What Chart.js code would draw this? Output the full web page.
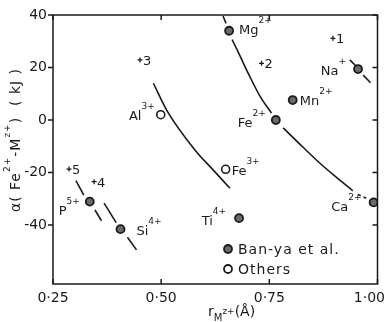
<!DOCTYPE html>
<html>
<head>
<meta charset="utf-8">
<script src="https://cdn.jsdelivr.net/npm/chart.js@4.4.0/dist/chart.umd.min.js"></script>
<style>
  html, body { margin: 0; padding: 0; background: #fff; }
  #wrap { width: 385px; height: 322px; }
</style>
</head>
<body>
<div id="wrap"><canvas id="chart"></canvas></div>
<script>
// axis ticks
const xTicks = [0.25, 0.50, 0.75, 1.00];
const yTicks = [-40, -20, 0, 20, 40];

// Ban-ya et al. (filled)
const banyaIons = ['Mg', 'Fe', 'Mn', 'Na', 'Ca', 'Ti', 'P', 'Si'];
const banyaCharge = ['2+', '2+', '2+', '+', '2+', '4+', '5+', '4+'];
const banyaR = [0.657, 0.765, 0.804, 0.955, 0.991, 0.680, 0.335, 0.406];
const banyaA = [34.0, 0.0, 7.6, 19.4, -31.4, -37.4, -31.1, -41.6];

// Others (open)
const otherIons = ['Al', 'Fe'];
const otherCharge = ['3+', '3+'];
const otherR = [0.499, 0.649];
const otherA = [2.0, -18.8];

// numbered marks
const markNums = ['1', '2', '3', '4', '5'];
const markR = [0.897, 0.732, 0.451, 0.345, 0.287];
const markA = [31.1, 21.6, 22.9, -23.5, -18.7];

// curve through Mg - Fe - Ca
const mgTopR = [0.643, 0.650];
const mgTopA = [39.6, 36.8];
const mgFeR = [0.664, 0.677, 0.705, 0.729, 0.755];
const mgFeA = [30.6, 26.2, 16.5, 8.9, 2.6];
const feCaR = [0.782, 0.828, 0.867, 0.906, 0.943];
const feCaA = [-3.0, -10.4, -16.5, -22.0, -27.0];
const caDashR = [0.955, 0.980];
const caDashA = [-28.4, -30.3];

// curve Al - Fe3+
const alFeR = [0.482, 0.514, 0.578, 0.620, 0.659];
const alFeA = [14.0, 3.4, -11.4, -19.0, -26.0];

// short dashes through Na, P, Si
const naUpR = [0.936, 0.952];
const naUpA = [22.9, 20.3];
const naLoR = [0.967, 0.984];
const naLoA = [17.1, 14.2];
const pUpR = [0.303, 0.321];
const pUpA = [-23.1, -28.6];
const pLoR = [0.347, 0.362];
const pLoA = [-34.3, -38.4];
const siUpR = [0.368, 0.396];
const siUpA = [-31.7, -39.1];
const siLoR = [0.422, 0.443];
const siLoA = [-44.7, -49.5];

const ink = '#1a1a1a';
const face = '"DejaVu Sans", sans-serif';

// label placement: [dx, baseline dy, align]
const banyaLabelPos = [[10, 3, 'left'], [-10, 7, 'right'], [7, 5, 'left'], [-12, 6, 'right'],
                       [-12, 9, 'right'], [-13, 7, 'right'], [-10, 13, 'right'], [16, 6, 'left']];
const otherLabelPos = [[-6, 5, 'right'], [6, 6, 'left']];

function pts(xs, ys) {
    return xs.map((v, i) => ({ x: v, y: ys[i] }));
}

function lineSet(xs, ys, dash) {
    return {
        data: pts(xs, ys),
        showLine: true,
        pointRadius: 0,
        borderColor: ink,
        borderWidth: 1.6,
        cubicInterpolationMode: 'monotone',
        tension: 0.4,
        borderDash: dash || [],
        order: 2
    };
}

function drawRich(ctx, parts, x, y, align, spacing) {
    ctx.letterSpacing = (spacing || 0) + 'px';
    let w = 0;
    parts.forEach(p => {
        ctx.font = p[1] + 'px ' + face;
        w += ctx.measureText(p[0]).width;
    });
    let cx = align === 'right' ? x - w : align === 'center' ? x - w / 2 : x;
    ctx.textAlign = 'left';
    ctx.textBaseline = 'alphabetic';
    parts.forEach(p => {
        ctx.font = p[1] + 'px ' + face;
        ctx.fillText(p[0], cx, y - p[2]);
        cx += ctx.measureText(p[0]).width;
    });
    ctx.letterSpacing = '0px';
}

const decor = {
    id: 'decor',
    afterDraw(chart) {
        const { ctx, chartArea: a, scales: { x, y } } = chart;
        ctx.save();
        ctx.strokeStyle = ink;
        ctx.fillStyle = ink;
        ctx.lineWidth = 1.5;
        ctx.strokeRect(a.left, a.top, a.right - a.left, a.bottom - a.top);

        // tick marks
        ctx.beginPath();
        xTicks.forEach(v => {
            const px = x.getPixelForValue(v);
            ctx.moveTo(px, a.bottom); ctx.lineTo(px, a.bottom - 5);
            ctx.moveTo(px, a.top); ctx.lineTo(px, a.top + 5);
        });
        yTicks.forEach(v => {
            const py = y.getPixelForValue(v);
            ctx.moveTo(a.left - 5, py); ctx.lineTo(a.left, py);
            ctx.moveTo(a.right - 5, py); ctx.lineTo(a.right, py);
        });
        ctx.stroke();

        // x tick labels (decimal point written as a raised dot)
        ctx.font = '14px ' + face;
        xTicks.forEach(v => {
            const s = v.toFixed(2).replace('.', '·');
            const w = ctx.measureText(s).width;
            let cx = x.getPixelForValue(v);
            cx = Math.min(cx, chart.width - w / 2);
            ctx.textAlign = 'center';
            ctx.textBaseline = 'alphabetic';
            ctx.fillText(s, cx, a.bottom + 18);
        });

        // ion labels
        banyaIons.forEach((n, i) => {
            const p = banyaLabelPos[i];
            drawRich(ctx, [[n, 13, 0], [banyaCharge[i], 9, 11]],
                x.getPixelForValue(banyaR[i]) + p[0], y.getPixelForValue(banyaA[i]) + p[1], p[2]);
        });
        otherIons.forEach((n, i) => {
            const p = otherLabelPos[i];
            drawRich(ctx, [[n, 13, 0], [otherCharge[i], 9, 11]],
                x.getPixelForValue(otherR[i]) + p[0], y.getPixelForValue(otherA[i]) + p[1], p[2]);
        });
        markNums.forEach((n, i) => {
            drawRich(ctx, [[n, 13, 0]], x.getPixelForValue(markR[i]) + 3, y.getPixelForValue(markA[i]) + 5, 'left');
        });

        // legend
        const lx = a.left + 175, ly1 = a.top + 234, ly2 = a.top + 254;
        ctx.lineWidth = 1.8;
        ctx.beginPath(); ctx.arc(lx, ly1, 4, 0, Math.PI * 2);
        ctx.fillStyle = '#6a6a6a'; ctx.fill(); ctx.stroke();
        ctx.beginPath(); ctx.arc(lx, ly2, 4, 0, Math.PI * 2);
        ctx.fillStyle = '#fff'; ctx.fill(); ctx.stroke();
        ctx.fillStyle = ink;
        drawRich(ctx, [['Ban-ya et al.', 14, 0]], lx + 10, ly1 + 5, 'left', 1);
        drawRich(ctx, [['Others', 14, 0]], lx + 10, ly2 + 5, 'left', 1);

        // x title
        drawRich(ctx, [['r', 14, 0], ['M', 10, -5], ['z+', 9, 2], ['(Å)', 14, 0]],
            a.left + 155, a.bottom + 32, 'left');

        // y title
        ctx.translate(a.left - 33, a.top + 125);
        ctx.rotate(-Math.PI / 2);
        drawRich(ctx, [['α( Fe', 14, 0], ['2+', 9, 10], ['-M', 14, 0], ['z+', 9, 10], [')  ( kJ )', 14, 0]],
            0, 0, 'center', 1);
        ctx.restore();
    }
};

new Chart(document.getElementById('chart'), {
    type: 'scatter',
    data: {
        datasets: [
            {
                label: 'Ban-ya et al.',
                data: pts(banyaR, banyaA),
                pointRadius: 4,
                pointBackgroundColor: '#6a6a6a',
                pointBorderColor: ink,
                pointBorderWidth: 1.8,
                order: 0
            },
            {
                label: 'Others',
                data: pts(otherR, otherA),
                pointRadius: 4,
                pointBackgroundColor: '#fff',
                pointBorderColor: ink,
                pointBorderWidth: 1.6,
                order: 0
            },
            {
                label: 'marks',
                data: pts(markR, markA),
                pointStyle: 'cross',
                pointRadius: 2.5,
                pointBorderColor: ink,
                pointBorderWidth: 1.3,
                order: 1
            },
            lineSet(mgTopR, mgTopA),
            lineSet(mgFeR, mgFeA),
            lineSet(feCaR, feCaA),
            lineSet(caDashR, caDashA, [3, 3]),
            lineSet(alFeR, alFeA),
            lineSet(naUpR, naUpA),
            lineSet(naLoR, naLoA),
            lineSet(pUpR, pUpA),
            lineSet(pLoR, pLoA),
            lineSet(siUpR, siUpA),
            lineSet(siLoR, siLoA)
        ]
    },
    options: {
        responsive: true,
        maintainAspectRatio: false,
        animation: false,
        layout: {
            padding: { top: 15, right: 7.5, left: 0, bottom: 0 }
        },
        plugins: {
            legend: { display: false },
            tooltip: { enabled: false }
        },
        scales: {
            x: {
                type: 'linear',
                min: 0.25,
                max: 1.0,
                grid: { display: false, drawTicks: false },
                border: { display: false },
                ticks: { display: false },
                afterFit: s => { s.height = 38; }
            },
            y: {
                type: 'linear',
                min: -62.5,
                max: 40,
                grid: { display: false, drawTicks: false },
                border: { display: false },
                afterBuildTicks: s => { s.ticks = yTicks.map(v => ({ value: v })); },
                ticks: {
                    padding: 6,
                    color: ink,
                    font: { family: 'DejaVu Sans', size: 14 }
                },
                afterFit: s => { s.width = 53; }
            }
        }
    },
    plugins: [decor]
});
</script>
</body>
</html>
